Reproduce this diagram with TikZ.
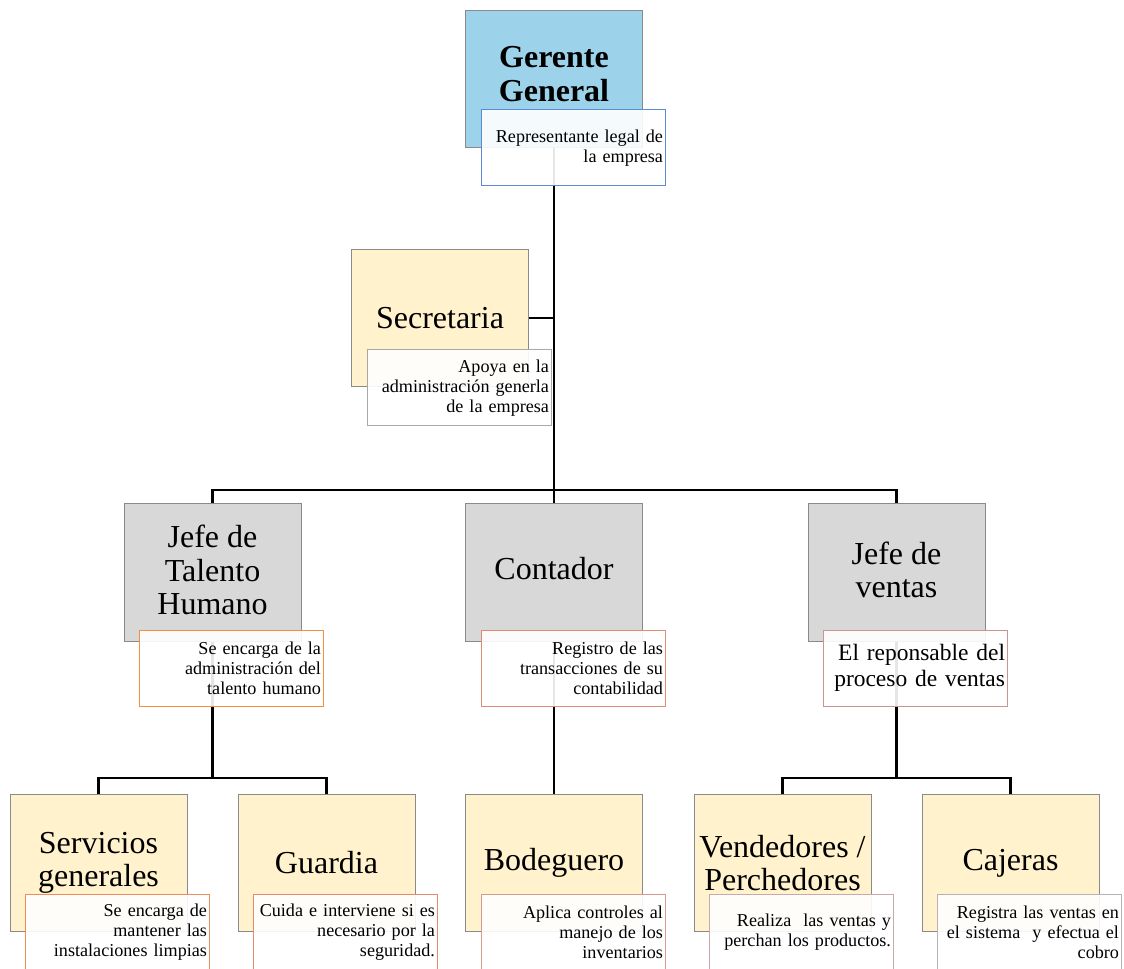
\documentclass[tikz,border=0pt]{standalone}
\usepackage{fontspec}
\setmainfont{Liberation Serif}
\usetikzlibrary{backgrounds}

\definecolor{boxline}{HTML}{8A8A8A}
\definecolor{fillblue}{HTML}{9DD3EA}
\definecolor{fillgray}{HTML}{D8D8D8}
\definecolor{fillyellow}{HTML}{FFF2CC}
\definecolor{edgeblue}{HTML}{5B8BD8}
\definecolor{edgegray}{HTML}{A8A8A8}
\definecolor{edgeorange}{HTML}{F0903E}
\definecolor{edgesalmon}{HTML}{E08A72}
\definecolor{edgerose}{HTML}{C99494}
\definecolor{edgecoral}{HTML}{EE8C5C}
\definecolor{edgeclay}{HTML}{E58A6C}
\definecolor{edgedust}{HTML}{D99A8E}
\definecolor{edgemauve}{HTML}{CBA9A9}
\definecolor{edgestone}{HTML}{B9B2B2}

\tikzset{
  x=0.75pt, y=-0.75pt,
  rolebox/.style={draw=boxline, line width=0.75pt, minimum width=132.75pt,
    minimum height=103pt, inner sep=0pt, align=center,
    font=\fontsize{24}{25}\selectfont},
  blueb/.style={rolebox, fill=fillblue},
  grayb/.style={rolebox, fill=fillgray},
  yellowb/.style={rolebox, fill=fillyellow},
  notebox/.style={draw=#1, line width=0.75pt, fill=white, fill opacity=0.9,
    text opacity=1, minimum width=138pt, minimum height=57pt,
    text width=135pt, inner xsep=1.5pt, inner ysep=0pt, align=right,
    font=\fontsize{13.6}{15}\selectfont},
  link/.style={line width=2pt, black},
}

\begin{document}
\begin{tikzpicture}
\useasboundingbox (0,0) rectangle (1124,969);

% upper levels
\node[blueb, text depth=7.5pt] (ger) at (554,79) {\textbf{Gerente}\\\textbf{General}};
\node[notebox=edgeblue] (gerN) at (573,148) {Representante legal de\\la empresa};

\node[yellowb] (sec) at (440,318) {Secretaria};
\node[notebox=edgegray] (secN) at (459,388) {Apoya en la\\administración generla\\de la empresa};

% middle level
\node[grayb, text depth=4pt] (th) at (212.5,572.5) {Jefe de\\Talento\\Humano};
\node[notebox=edgeorange] (thN) at (231,668) {Se encarga de la\\administración del\\talento humano};

\node[grayb, text depth=6pt] (cont) at (554,572.5) {Contador};
\node[notebox=edgesalmon] (contN) at (573,668) {Registro de las\\transacciones de su\\contabilidad};

\node[grayb, text depth=4pt] (jv) at (896.5,572.5) {Jefe de\\ventas};
\node[notebox=edgerose, font=\fontsize{17.6}{19.5}\selectfont] (jvN) at (915,668) {El reponsable del\\proceso de ventas};

% lower level
\node[yellowb] (sg) at (98.5,863) {Servicios\\generales};
\node[notebox=edgecoral] (sgN) at (117,932) {Se encarga de\\mantener las\\instalaciones limpias};

\node[yellowb] (gu) at (326.5,863) {Guardia};
\node[notebox=edgeclay] (guN) at (345,932) {Cuida e interviene si es\\necesario por la\\seguridad.};

\node[yellowb] (bod) at (554,863) {Bodeguero};
\node[notebox=edgedust] (bodN) at (573,932) {Aplica controles al\\manejo de los\\inventarios};

\node[yellowb] (ven) at (782.5,863) {Vendedores /\\Perchedores};
\node[notebox=edgemauve] (venN) at (801,932) {Realiza\ \ las ventas y\\perchan los productos.};

\node[yellowb] (caj) at (1010.5,863) {Cajeras};
\node[notebox=edgestone] (cajN) at (1029,932) {Registra las ventas en\\el sistema\ \ y efectua el\\cobro};

% bus junctions
\coordinate (busTop) at (554,490);
\coordinate (busTH) at (212.5,778);
\coordinate (busJV) at (896.5,778);

% connectors behind the boxes
\begin{scope}[on background layer]
  \draw[link] (ger.center) -- (busTop);
  \draw[link] (sec.east) -- (sec.east -| ger.center);
  \draw[link] (th.north) -- (th.north |- busTop) -- (jv.north |- busTop) -- (jv.north);
  \draw[link] (busTop) -- (cont.north);
  \draw[link] (th.center) -- (busTH);
  \draw[link] (sg.north) -- (sg.north |- busTH) -- (gu.north |- busTH) -- (gu.north);
  \draw[link] (cont.center) -- (bod.north);
  \draw[link] (jv.center) -- (busJV);
  \draw[link] (ven.north) -- (ven.north |- busJV) -- (caj.north |- busJV) -- (caj.north);
\end{scope}
\end{tikzpicture}
\end{document}
